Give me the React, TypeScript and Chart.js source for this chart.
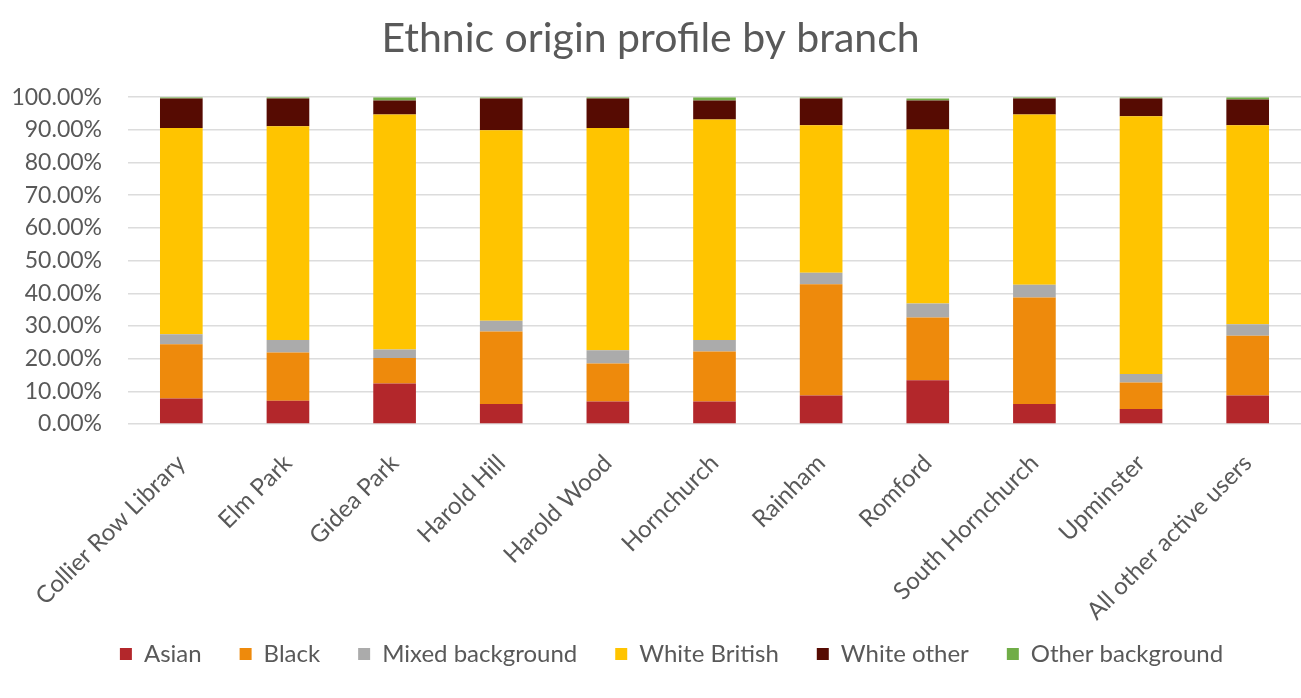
import React, { useEffect, useRef } from "react";
import { Chart, registerables } from "chart.js";

Chart.register(...registerables);

const categories = [
  "Collier Row Library",
  "Elm Park",
  "Gidea Park",
  "Harold Hill",
  "Harold Wood",
  "Hornchurch",
  "Rainham",
  "Romford",
  "South Hornchurch",
  "Upminster",
  "All other active users",
];

const asian = [7.8, 7.1, 12.4, 6.1, 6.9, 6.9, 8.7, 13.4, 6.1, 4.6, 8.7];
const black = [16.6, 14.8, 7.8, 22.2, 11.6, 15.3, 34.1, 19.2, 32.6, 8.1, 18.3];
const mixed = [3.1, 3.8, 2.6, 3.3, 4.1, 3.5, 3.5, 4.3, 3.9, 2.6, 3.5];
const whiteBritish = [63.1, 65.4, 71.9, 58.3, 68.0, 67.5, 45.1, 53.2, 52.1, 78.9, 60.9];
const whiteOther = [9.0, 8.5, 4.3, 9.7, 9.0, 5.8, 8.2, 8.9, 4.9, 5.4, 7.9];
const otherBackground = [0.4, 0.4, 1.0, 0.4, 0.4, 1.0, 0.4, 0.6, 0.4, 0.4, 0.7];

const yTicks = [0, 10, 20, 30, 40, 50, 60, 70, 80, 90, 100];

const seriesNames = ["Asian", "Black", "Mixed background", "White British", "White other", "Other background"];
const seriesColors = ["#B3272B", "#EE8A0C", "#ABABAB", "#FFC400", "#560B02", "#70AD47"];

const titleText = "Ethnic origin profile by branch";

export default function App() {
  const ref = useRef<HTMLCanvasElement | null>(null);
  useEffect(() => {
    if (!ref.current) return;
    const values = [asian, black, mixed, whiteBritish, whiteOther, otherBackground];
    const font = "Lato, 'Open Sans', sans-serif";
    const textColor = "#595959";
    const noClip = (s: any) => {
      s._computeLabelArea = () => undefined;
    };
    const chart = new Chart(ref.current, {
      type: "bar",
      data: {
        labels: categories,
        datasets: values.map((v, i) => ({
          label: seriesNames[i],
          data: v,
          backgroundColor: seriesColors[i],
          borderWidth: 0,
          barPercentage: 0.4,
          categoryPercentage: 1,
        })),
      },
      options: {
        animation: false,
        responsive: false,
        layout: { padding: { top: 14, right: 0, left: 42, bottom: 22 } },
        plugins: {
          title: {
            display: true,
            text: titleText + "    ",
            color: textColor,
            font: { family: font, size: 41, weight: "normal", lineHeight: 1.2 },
            padding: { top: 0, bottom: 34 },
          },
          legend: {
            position: "bottom",
            labels: {
              color: textColor,
              font: { family: font, size: 24 },
              boxWidth: 12,
              boxHeight: 12,
              padding: 38,
            },
          },
          tooltip: { enabled: false },
        },
        scales: {
          x: {
            stacked: true,
            grid: { display: false },
            border: { display: false },
            afterFit: (s: any) => {
              s.paddingLeft = 0;
              s.paddingRight = 0;
              s.height = 180;
              noClip(s);
            },
            ticks: {
              color: textColor,
              font: { family: font, size: 24 },
              minRotation: 45,
              maxRotation: 45,
              padding: 17,
            },
          },
          y: {
            stacked: true,
            min: 0,
            max: 100,
            afterBuildTicks: (axis: any) => {
              axis.ticks = yTicks.map((v) => ({ value: v }));
            },
            afterFit: (s: any) => {
              s.width = 86;
              noClip(s);
            },
            grid: { color: "#DCDCDC", lineWidth: 1.5, drawTicks: false },
            border: { display: false },
            ticks: {
              color: textColor,
              font: { family: font, size: 23 },
              padding: 26,
              callback: (v: any) => Number(v).toFixed(2) + "%",
            },
          },
        },
      },
    });
    return () => chart.destroy();
  }, []);
  return (
    <div style={{ position: "fixed", left: 0, top: 0, width: 1301, height: 698, background: "#fff" }}>
      <canvas ref={ref} width={1301} height={698} style={{ width: 1301, height: 698 }} />
    </div>
  );
}
